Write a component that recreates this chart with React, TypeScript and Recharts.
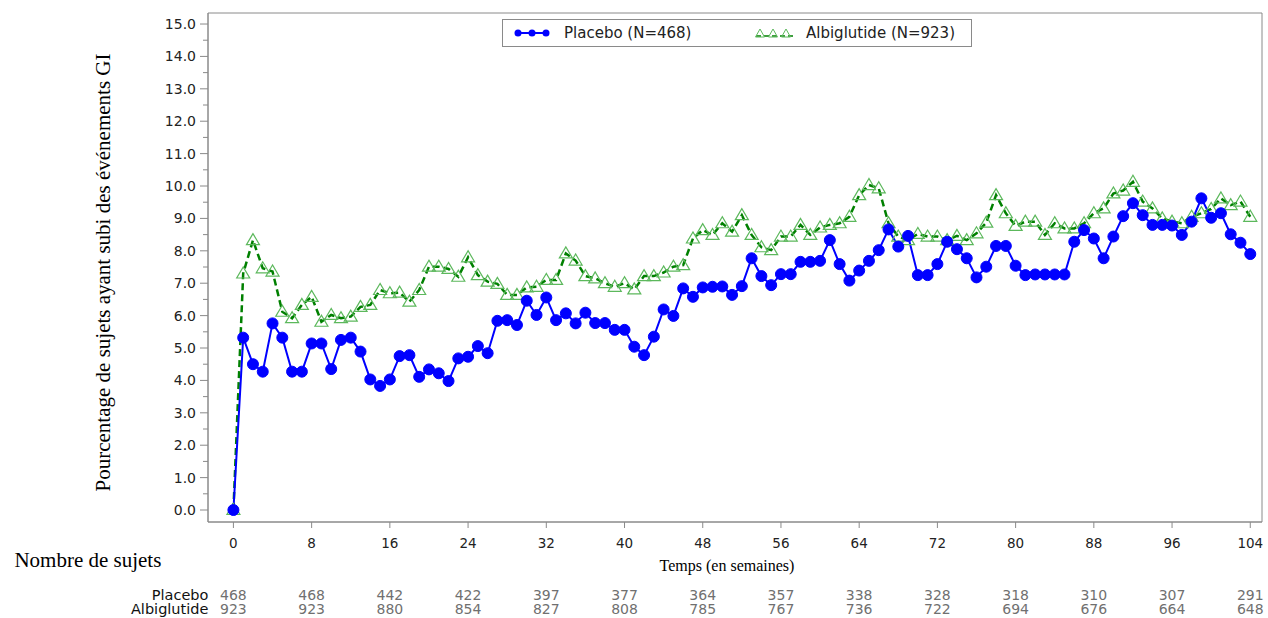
import React from 'react';
import { LineChart, Line, XAxis, YAxis, Legend, ReferenceArea } from 'recharts';

const weeks = [
  0, 1, 2, 3, 4, 5, 6, 7, 8, 9, 10, 11, 12, 13, 14, 15, 16, 17, 18, 19, 20,
  21, 22, 23, 24, 25, 26, 27, 28, 29, 30, 31, 32, 33, 34, 35, 36, 37, 38, 39, 40,
  41, 42, 43, 44, 45, 46, 47, 48, 49, 50, 51, 52, 53, 54, 55, 56, 57, 58, 59, 60,
  61, 62, 63, 64, 65, 66, 67, 68, 69, 70, 71, 72, 73, 74, 75, 76, 77, 78, 79, 80,
  81, 82, 83, 84, 85, 86, 87, 88, 89, 90, 91, 92, 93, 94, 95, 96, 97, 98, 99, 100,
  101, 102, 103, 104,
];

const placebo = [
  0.0, 5.32, 4.5, 4.27, 5.76, 5.32, 4.27, 4.27, 5.14, 5.14, 4.35,
  5.25, 5.32, 4.89, 4.03, 3.83, 4.03, 4.75, 4.78, 4.11, 4.34,
  4.22, 3.98, 4.68, 4.73, 5.06, 4.84, 5.84, 5.86, 5.71, 6.46,
  6.02, 6.56, 5.86, 6.07, 5.76, 6.09, 5.77, 5.77, 5.56, 5.56,
  5.04, 4.78, 5.35, 6.19, 5.99, 6.84, 6.58, 6.87, 6.89, 6.9,
  6.64, 6.91, 7.77, 7.22, 6.94, 7.28, 7.28, 7.66, 7.66, 7.69,
  8.33, 7.59, 7.08, 7.39, 7.69, 8.02, 8.66, 8.13, 8.46, 7.25,
  7.25, 7.59, 8.28, 8.05, 7.77, 7.18, 7.51, 8.15, 8.15, 7.54,
  7.25, 7.27, 7.27, 7.27, 7.27, 8.28, 8.64, 8.38, 7.77, 8.44,
  9.07, 9.47, 9.1, 8.8, 8.8, 8.78, 8.49, 8.9, 9.62, 9.02,
  9.16, 8.51, 8.25, 7.9,
];

const albiglutide = [
  0.0, 7.3, 8.33, 7.46, 7.36, 6.12, 5.92, 6.33, 6.58, 5.81, 6.02,
  5.92, 5.97, 6.27, 6.33, 6.79, 6.69, 6.71, 6.43, 6.79, 7.51,
  7.51, 7.44, 7.2, 7.8, 7.25, 7.05, 6.98, 6.64, 6.64, 6.87,
  6.89, 7.1, 7.1, 7.92, 7.7, 7.22, 7.15, 7.0, 6.89, 7.0,
  6.81, 7.22, 7.22, 7.33, 7.51, 7.56, 8.38, 8.64, 8.49, 8.85,
  8.59, 9.1, 8.49, 8.11, 8.02, 8.44, 8.44, 8.8, 8.49, 8.72,
  8.8, 8.85, 9.05, 9.72, 10.03, 9.93, 8.85, 8.44, 8.33, 8.52,
  8.44, 8.44, 8.33, 8.46, 8.33, 8.54, 8.87, 9.72, 9.16, 8.77,
  8.9, 8.9, 8.49, 8.85, 8.69, 8.69, 8.85, 9.16, 9.31, 9.77,
  9.86, 10.13, 9.52, 9.31, 9.0, 8.9, 8.85, 9.05, 9.16, 9.29,
  9.62, 9.41, 9.52, 9.05,
];

const xTicks = [0, 8, 16, 24, 32, 40, 48, 56, 64, 72, 80, 88, 96, 104];
const yTicks = [
  0, 0.5, 1, 1.5, 2, 2.5, 3, 3.5, 4, 4.5, 5, 5.5, 6, 6.5, 7, 7.5, 8, 8.5, 9, 9.5,
  10, 10.5, 11, 11.5, 12, 12.5, 13, 13.5, 14, 14.5, 15,
];
const riskPlacebo = [468, 468, 442, 422, 397, 377, 364, 357, 338, 328, 318, 310, 307, 291];
const riskAlbiglutide = [923, 923, 880, 854, 827, 808, 785, 767, 736, 722, 694, 676, 664, 648];

const placeboLabel = 'Placebo (N=468)';
const albiLabel = 'Albiglutide (N=923)';

const data = weeks.map((w, i) => ({ week: w, placebo: placebo[i], albiglutide: albiglutide[i] }));

const SANS = 'DejaVu Sans, sans-serif';
const SERIF = 'Liberation Serif, Times New Roman, serif';
const AXIS_GRAY = '#8a8a8a';

const YTick = (props: any) => {
  const { x, y, payload } = props;
  const v = payload.value;
  const major = Math.abs(v - Math.round(v)) < 1e-6;
  return (
    <g>
      <line x1={x - (major ? 8 : 5)} x2={x} y1={y} y2={y} stroke={AXIS_GRAY} strokeWidth={1} />
      {major && (
        <text x={x - 12} y={y} dy={5} textAnchor="end" fontFamily={SANS} fontSize={14} fill="#222">
          {v.toFixed(1)}
        </text>
      )}
    </g>
  );
};

const XTick = (props: any) => {
  const { x, y, payload, index } = props;
  return (
    <g>
      <line x1={x} x2={x} y1={y} y2={y + 6} stroke={AXIS_GRAY} strokeWidth={1} />
      <text x={x} y={y + 26} textAnchor="middle" fontFamily={SANS} fontSize={13.5} fill="#222">
        {payload.value}
      </text>
      <text x={x} y={y + 78} textAnchor="middle" fontFamily={SANS} fontSize={14} fill="#707070">
        {riskPlacebo[index]}
      </text>
      <text x={x} y={y + 92} textAnchor="middle" fontFamily={SANS} fontSize={14} fill="#707070">
        {riskAlbiglutide[index]}
      </text>
      {index === 0 && (
        <g>
          <text x={x - 25} y={y + 78} textAnchor="end" fontFamily={SANS} fontSize={14.5} fill="#111">
            Placebo
          </text>
          <text x={x - 25} y={y + 92} textAnchor="end" fontFamily={SANS} fontSize={14.5} fill="#111">
            Albiglutide
          </text>
          <text x={x - 219} y={y + 45} textAnchor="start" fontFamily={SERIF} fontSize={21} fill="#000">
            Nombre de sujets
          </text>
        </g>
      )}
    </g>
  );
};

const Triangle = (props: any) => {
  const { cx, cy, index } = props;
  if (cx == null || cy == null) return <g key={index} />;
  const d = `M${cx},${cy - 6.5} L${cx - 6.5},${cy + 4.5} L${cx + 6.5},${cy + 4.5} Z`;
  return <path key={index} d={d} fill="none" stroke="#5cb85c" strokeWidth={1.2} />;
};

const LegendBox = () => (
  <div
    style={{
      width: 470,
      height: 28,
      border: '1px solid #8a8a8a',
      boxSizing: 'border-box',
      background: '#fff',
    }}
  >
    <svg width={468} height={26}>
      <line x1={14} x2={44} y1={13} y2={13} stroke="#0000ff" strokeWidth={2} />
      <circle cx={15} cy={13} r={3.5} fill="#0000ff" />
      <circle cx={29} cy={13} r={3.5} fill="#0000ff" />
      <circle cx={43} cy={13} r={3.5} fill="#0000ff" />
      <text x={61} y={18} fontFamily={SANS} fontSize={15} fill="#222">
        {placeboLabel}
      </text>
      <line x1={253} x2={290} y1={16} y2={16} stroke="#008000" strokeWidth={1.5} strokeDasharray="5 3" />
      {[257, 270, 283].map((cx) => (
        <path
          key={cx}
          d={`M${cx},${9} L${cx - 4.5},${17} L${cx + 4.5},${17} Z`}
          fill="none"
          stroke="#5cb85c"
          strokeWidth={1}
        />
      ))}
      <text x={303} y={18} fontFamily={SANS} fontSize={15} fill="#222">
        {albiLabel}
      </text>
    </svg>
  </div>
);

const YLabel = (props: any) => {
  const vb = props.viewBox || {};
  const cx = vb.x - 38;
  const cy = vb.y + vb.height / 2 + 5;
  return (
    <text
      x={cx}
      y={cy}
      transform={`rotate(-90, ${cx}, ${cy})`}
      textAnchor="middle"
      fontFamily={SERIF}
      fontSize={21}
      fill="#000"
    >
      Pourcentage de sujets ayant subi des événements GI
    </text>
  );
};

const XLabel = (props: any) => {
  const vb = props.viewBox || {};
  const cx = vb.x + vb.width / 2 - 8;
  const cy = vb.y + 49;
  return (
    <text x={cx} y={cy} textAnchor="middle" fontFamily={SERIF} fontSize={16} fill="#000">
      Temps (en semaines)
    </text>
  );
};

export default function App() {
  return (
    <div style={{ position: 'absolute', left: 0, top: 0, width: 1268, height: 618, background: '#fff' }}>
      <LineChart width={1268} height={618} data={data} margin={{ top: 13, right: 6, bottom: 0, left: 148 }}>
        <XAxis
          dataKey="week"
          type="number"
          domain={[-2.6, 105.2]}
          ticks={xTicks}
          allowDataOverflow
          height={96}
          tickLine={false}
          tickSize={0}
          tickMargin={0}
          axisLine={{ stroke: AXIS_GRAY }}
          tick={<XTick />}
          interval={0}
          label={<XLabel />}
        />
        <YAxis
          type="number"
          domain={[-0.37, 15.34]}
          ticks={yTicks}
          allowDataOverflow
          width={60}
          tickLine={false}
          tickSize={0}
          tickMargin={0}
          axisLine={{ stroke: AXIS_GRAY }}
          tick={<YTick />}
          interval={0}
          label={<YLabel />}
        />
        <ReferenceArea
          x1={-2.6}
          x2={105.2}
          y1={-0.37}
          y2={15.34}
          fill="none"
          stroke={AXIS_GRAY}
          strokeWidth={1}
          ifOverflow="visible"
        />
        <Legend
          layout="horizontal"
          verticalAlign="middle"
          align="center"
          content={<LegendBox />}
          wrapperStyle={{ position: 'absolute', left: 502, top: 19, width: 470, height: 28 }}
        />
        <Line
          dataKey="albiglutide"
          stroke="#008000"
          strokeWidth={2.5}
          strokeDasharray="7 4"
          dot={<Triangle />}
          activeDot={false}
          isAnimationActive={false}
          legendType="none"
        />
        <Line
          dataKey="placebo"
          stroke="#0000ff"
          strokeWidth={2}
          dot={{ r: 5.5, fill: '#0000ff', stroke: '#0000ff', strokeWidth: 1 }}
          activeDot={false}
          isAnimationActive={false}
          legendType="none"
        />
      </LineChart>
    </div>
  );
}
